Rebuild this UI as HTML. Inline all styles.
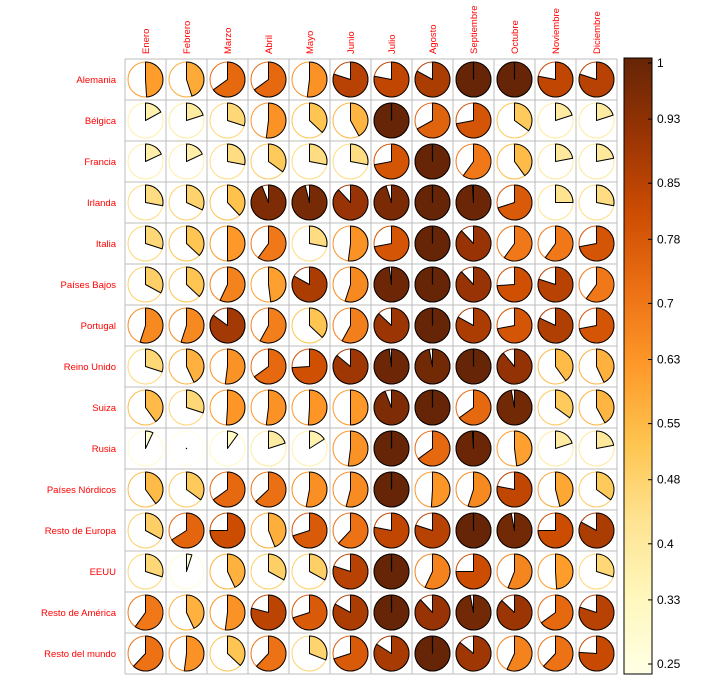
<!DOCTYPE html>
<html><head><meta charset="utf-8"><style>
body{margin:0;background:#fff;width:720px;height:684px;overflow:hidden}
svg{display:block;font-family:"Liberation Sans",sans-serif}
</style></head><body>
<svg id="chart" width="720" height="684"></svg>
<script>
const rows=["Alemania","Bélgica","Francia","Irlanda","Italia","Países Bajos","Portugal","Reino Unido","Suiza","Rusia","Países Nórdicos","Resto de Europa","EEUU","Resto de América","Resto del mundo"];
const cols=["Enero","Febrero","Marzo","Abril","Mayo","Junio","Julio","Agosto","Septiembre","Octubre","Noviembre","Diciembre"];
// pie fraction of each cell (value = 0.25 + 0.75*fraction)
const fracAlemania=[0.49,0.45,0.65,0.65,0.52,0.8,0.78,0.83,1,1,0.78,0.8];
const fracBelgica=[0.17,0.2,0.3,0.52,0.37,0.42,1,0.67,0.72,0.35,0.2,0.2];
const fracFrancia=[0.18,0.18,0.28,0.35,0.28,0.28,0.72,1,0.6,0.4,0.22,0.22];
const fracIrlanda=[0.28,0.32,0.38,0.94,0.96,0.88,0.95,1,0.99,0.7,0.25,0.28];
const fracItalia=[0.3,0.37,0.5,0.6,0.28,0.52,0.72,1,0.88,0.6,0.6,0.72];
const fracPaisesBajos=[0.33,0.37,0.57,0.48,0.83,0.55,0.98,1,0.88,0.74,0.8,0.6];
const fracPortugal=[0.55,0.55,0.85,0.58,0.37,0.58,0.87,1,0.83,0.72,0.82,0.72];
const fracReinoUnido=[0.3,0.43,0.52,0.65,0.74,0.86,0.98,0.97,1,0.89,0.4,0.43];
const fracSuiza=[0.4,0.3,0.51,0.52,0.51,0.5,0.94,1,0.65,0.97,0.35,0.42];
const fracRusia=[0.07,0,0.1,0.2,0.16,0.52,1,0.65,0.99,0.48,0.2,0.22];
const fracNordicos=[0.4,0.35,0.65,0.63,0.53,0.54,1,0.51,0.55,0.78,0.46,0.35];
const fracRestoEuropa=[0.33,0.66,0.75,0.44,0.7,0.62,0.78,0.8,1,0.97,0.75,0.83];
const fracEEUU=[0.3,0.05,0.43,0.33,0.33,0.8,1,0.57,0.75,0.56,0.49,0.3];
const fracRestoAmerica=[0.6,0.43,0.52,0.79,0.7,0.83,1,0.88,0.97,0.87,0.65,0.8];
const fracRestoMundo=[0.62,0.52,0.37,0.62,0.31,0.7,0.84,1,0.86,0.57,0.62,0.76];
const ticks=[1,0.93,0.85,0.78,0.7,0.63,0.55,0.48,0.4,0.33,0.25];
const vmin=0.25,vmax=1;
const data=[fracAlemania,fracBelgica,fracFrancia,fracIrlanda,fracItalia,fracPaisesBajos,fracPortugal,fracReinoUnido,fracSuiza,fracRusia,fracNordicos,fracRestoEuropa,fracEEUU,fracRestoAmerica,fracRestoMundo];

const pal=["#FFFFE5","#FFF7BC","#FEE391","#FEC44F","#FE9929","#EC7014","#CC4C02","#993404","#662506"];
function hex(h){return [1,3,5].map(i=>parseInt(h.substr(i,2),16));}
function color(t){t=Math.max(0,Math.min(1,t));const p=t*(pal.length-1),i=Math.min(Math.floor(p),pal.length-2),f=p-i;
const a=hex(pal[i]),b=hex(pal[i+1]);return "rgb("+a.map((x,k)=>Math.round(x+(b[k]-x)*f)).join(",")+")";}
const X0=125,Y0=59,CW=41,CH=41,R=17.5;
const cx=j=>X0+CW*j+CW/2, cy=i=>Y0+CH*i+CH/2;
const NS="http://www.w3.org/2000/svg",svg=document.getElementById("chart");
function mk(tag,at,parent){const e=document.createElementNS(NS,tag);for(const k in at)e.setAttribute(k,at[k]);(parent||svg).appendChild(e);return e;}

const grid=mk("g",{});


for(let j=0;j<=cols.length;j++)mk("line",{x1:X0+CW*j,y1:Y0,x2:X0+CW*j,y2:Y0+CH*rows.length,stroke:"#bebebe","stroke-width":1},grid);
for(let i=0;i<=rows.length;i++)mk("line",{x1:X0,y1:Y0+CH*i,x2:X0+CW*cols.length,y2:Y0+CH*i,stroke:"#bebebe","stroke-width":1},grid);

rows.forEach((r,i)=>{const t=mk("text",{x:116,y:cy(i)+3.5,"text-anchor":"end","font-size":9.5,fill:"#ff0000"});t.textContent=r;

});
cols.forEach((c,j)=>{const t=mk("text",{x:0,y:0,"text-anchor":"start","font-size":9.5,fill:"#ff0000",transform:`translate(${cx(j)+3.5},54) rotate(-90)`});t.textContent=c;

});

data.forEach((row,i)=>row.forEach((f,j)=>{
  const v=vmin+(vmax-vmin)*f, col=color((v-vmin)/(vmax-vmin));
  const g=mk("g",{});
  
  
  const x=cx(j),y=cy(i);
  mk("circle",{cx:x,cy:y,r:R,fill:"none",stroke:col,"stroke-width":1},g);
  if(f>=0.999){mk("circle",{cx:x,cy:y,r:R,fill:col,stroke:"#000","stroke-width":1},g);mk("line",{x1:x,y1:y,x2:x,y2:y-R,stroke:"#000","stroke-width":1.2},g);}
  else if(f>0.001){const a=f*2*Math.PI,ex=x+R*Math.sin(a),ey=y-R*Math.cos(a);
    mk("path",{d:`M${x},${y}L${x},${y-R}A${R},${R} 0 ${f>0.5?1:0} 1 ${ex},${ey}Z`,fill:col,stroke:"#000","stroke-width":1,"stroke-linejoin":"round"},g);}
  else mk("circle",{cx:x,cy:y,r:0.7,fill:"#000"},g);
}));

// colour bar
const BX=624,BW=28,BT=58,BB=674;
const defs=mk("defs",{});const lg=mk("linearGradient",{id:"cb",x1:0,y1:1,x2:0,y2:0},defs);
pal.forEach((p,k)=>mk("stop",{offset:k/(pal.length-1),"stop-color":p},lg));
const bar=mk("rect",{x:BX,y:BT,width:BW,height:BB-BT,fill:"url(#cb)",stroke:"#000","stroke-width":1});


const ty=v=>63+(vmax-v)/(vmax-vmin)*(664-63);
ticks.forEach(v=>{const y=ty(v);
  mk("line",{x1:BX+BW-4,y1:y,x2:BX+BW,y2:y,stroke:"#000","stroke-width":1});
  const t=mk("text",{x:657,y:y+4,"font-size":12,fill:"#000"});t.textContent=String(v);
  
  });
</script>
</body></html>
